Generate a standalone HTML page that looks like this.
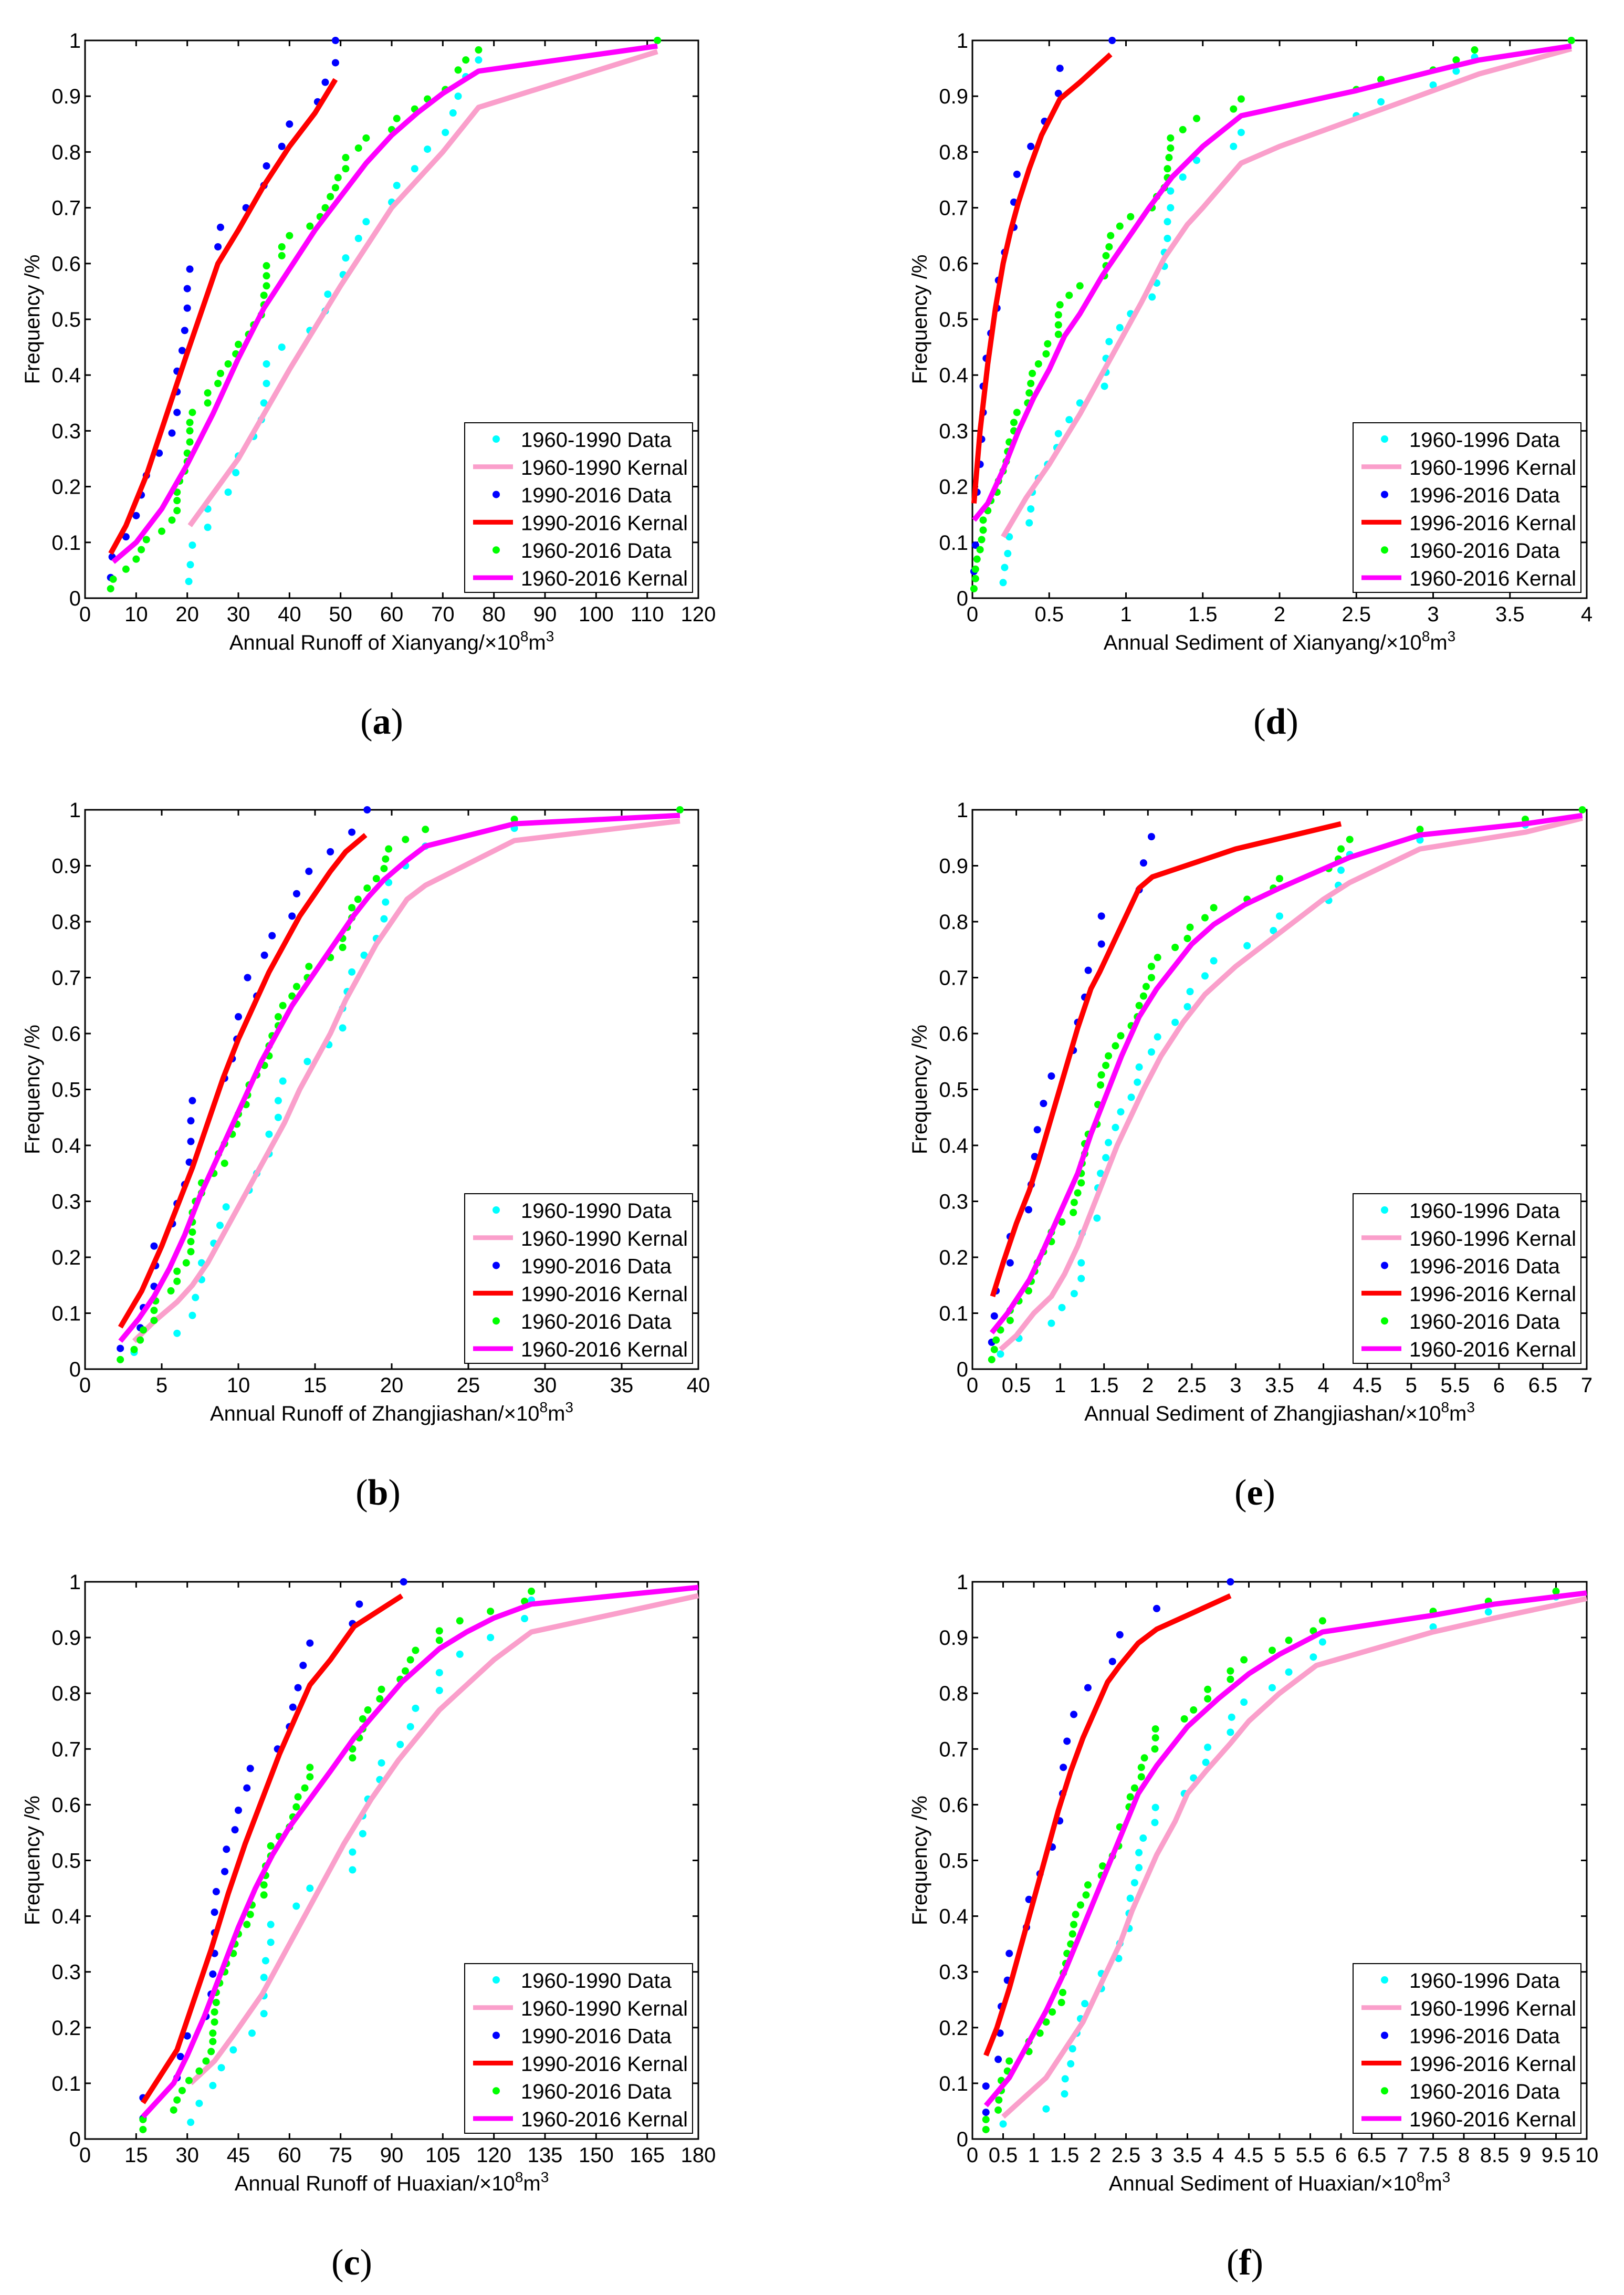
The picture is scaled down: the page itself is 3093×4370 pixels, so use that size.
<!DOCTYPE html>
<html><head><meta charset="utf-8"><style>
html,body{margin:0;padding:0;background:#fff}
svg{display:block}
text{font-family:"Liberation Sans",sans-serif;fill:#000}
</style></head><body>
<svg id="fig" width="3093" height="4370" viewBox="0 0 3093 4370" xmlns="http://www.w3.org/2000/svg"></svg>
<script>
// ---------- Panel (a): Annual Runoff of Xianyang ----------
const aCyan=[[20.3,0.03],[20.6,0.06],[21,0.095],[24,0.127],[24,0.16],[28,0.19],[29.5,0.225],[30,0.255],[33,0.29],[34.5,0.32],[35,0.35],[35.5,0.385],[35.5,0.42],[38.5,0.45],[44,0.48],[47,0.515],[47.5,0.545],[50.5,0.58],[51,0.61],[53.5,0.645],[55,0.675],[60,0.71],[61,0.74],[64.5,0.77],[67,0.805],[70.5,0.835],[72,0.87],[73,0.90],[74.5,0.935],[77,0.965],[112,1.0]];
const aPink=[[20.5,0.13],[30,0.25],[40,0.41],[50,0.56],[60,0.70],[70,0.80],[77,0.88],[112,0.98]];
const aBlue=[[5,0.037],[5.3,0.074],[8,0.11],[10,0.148],[11,0.185],[12,0.22],[14.5,0.26],[17,0.296],[18,0.333],[18,0.37],[18,0.407],[19,0.444],[19.5,0.48],[20,0.52],[20,0.555],[20.5,0.59],[26,0.63],[26.5,0.665],[31.5,0.70],[35,0.74],[35.5,0.775],[38.5,0.81],[40,0.85],[45.5,0.89],[47,0.925],[49,0.96],[49,1.0]];
const aRed=[[5,0.08],[8,0.13],[12,0.22],[16,0.33],[20,0.44],[23,0.52],[26,0.60],[30,0.66],[35,0.74],[40,0.81],[45,0.87],[49,0.93]];
const aGreen=[[5,0.017],[5.5,0.034],[8,0.052],[10,0.07],[11,0.087],[12,0.105],[15,0.12],[17,0.14],[18,0.157],[18,0.175],[18,0.19],[18.5,0.21],[19.5,0.228],[20,0.245],[20,0.26],[20.5,0.28],[20.5,0.3],[20.5,0.315],[21,0.333],[24,0.35],[24,0.368],[26,0.385],[26.5,0.403],[28,0.42],[29.5,0.438],[30,0.455],[32,0.473],[33,0.49],[34.5,0.508],[35,0.526],[35,0.543],[35.5,0.56],[35.5,0.578],[35.5,0.596],[38.5,0.614],[38.5,0.63],[40,0.65],[44,0.667],[46,0.684],[47,0.70],[48,0.72],[49,0.736],[49.5,0.754],[51,0.77],[51,0.79],[53.5,0.807],[55,0.825],[60,0.84],[61,0.86],[64.5,0.877],[67,0.895],[70.5,0.912],[73,0.947],[74.5,0.965],[77,0.983],[112,1.0]];
const aMag=[[5.5,0.065],[10,0.10],[15,0.16],[20,0.24],[25,0.33],[30,0.43],[35,0.52],[40,0.59],[45,0.66],[50,0.72],[55,0.78],[60,0.83],[65,0.87],[70,0.905],[77,0.945],[112,0.99]];
const aXTicks=[0,10,20,30,40,50,60,70,80,90,100,110,120];

// ---------- Panel (b): Annual Runoff of Zhangjiashan ----------
const bCyan=[[3.2,0.03],[6,0.064],[7,0.096],[7.2,0.128],[7.6,0.16],[7.6,0.19],[8.4,0.225],[8.8,0.257],[9.2,0.29],[10.7,0.32],[11.2,0.35],[12,0.385],[12,0.42],[12.6,0.45],[12.6,0.48],[12.9,0.515],[14.5,0.55],[15.9,0.58],[16.8,0.61],[16.8,0.645],[17.1,0.675],[17.4,0.71],[18.2,0.74],[19,0.77],[19.5,0.805],[19.6,0.835],[19.8,0.87],[20.9,0.9],[22.2,0.935],[28,0.967],[38.8,1.0]];
const bPink=[[3.2,0.05],[4.5,0.085],[6,0.12],[7,0.15],[8,0.19],[9,0.24],[10,0.29],[11,0.34],[12,0.39],[13,0.44],[14,0.5],[15,0.55],[16,0.6],[17,0.66],[18,0.71],[19,0.76],[20,0.80],[21,0.84],[22.2,0.865],[28,0.945],[38.8,0.98]];
const bBlue=[[2.3,0.037],[3.6,0.074],[3.8,0.11],[4.5,0.148],[4.6,0.185],[4.5,0.22],[5.7,0.26],[6,0.296],[6.5,0.33],[6.8,0.37],[6.9,0.407],[6.9,0.444],[7,0.48],[9.1,0.52],[9.6,0.555],[9.9,0.59],[10,0.63],[11.2,0.667],[10.6,0.70],[11.7,0.74],[12.2,0.775],[13.5,0.81],[13.8,0.85],[14.6,0.89],[16,0.925],[17.4,0.96],[18.4,1.0]];
const bRed=[[2.3,0.075],[3.7,0.14],[5,0.22],[6,0.29],[7,0.36],[8,0.44],[9,0.52],[10,0.59],[11,0.65],[12,0.71],[13,0.76],[14,0.81],[15,0.85],[16,0.89],[17,0.925],[18.3,0.955]];
const bGreen=[[2.3,0.017],[3.2,0.035],[3.6,0.052],[3.8,0.07],[4.5,0.087],[4.5,0.105],[4.6,0.122],[5.6,0.14],[6,0.157],[6,0.175],[6.6,0.19],[6.9,0.21],[6.9,0.228],[7,0.245],[7,0.263],[7,0.28],[7.2,0.3],[7.6,0.315],[7.6,0.333],[8.4,0.35],[9.1,0.368],[8.7,0.385],[9.1,0.403],[9.6,0.42],[9.9,0.438],[10,0.456],[10.5,0.473],[10.6,0.49],[10.7,0.508],[11.2,0.526],[11.7,0.543],[12,0.56],[12,0.578],[12.2,0.596],[12.6,0.614],[12.6,0.63],[12.9,0.65],[13.5,0.667],[13.8,0.684],[14.5,0.70],[14.6,0.72],[16,0.736],[16.8,0.754],[16.8,0.77],[17.1,0.79],[17.4,0.807],[17.4,0.825],[17.8,0.84],[18.4,0.86],[19,0.877],[19.5,0.895],[19.6,0.912],[19.8,0.93],[20.9,0.947],[22.2,0.965],[28,0.983],[38.8,1.0]];
const bMag=[[2.3,0.05],[3.5,0.09],[4.5,0.13],[5.5,0.18],[6.5,0.24],[7.5,0.31],[8.5,0.37],[9.5,0.43],[10.5,0.49],[11.5,0.55],[12.5,0.6],[13.5,0.65],[14.5,0.69],[15.5,0.73],[16.5,0.77],[17.5,0.81],[18.5,0.845],[19.5,0.875],[21,0.91],[22.2,0.935],[28,0.975],[38.8,0.99]];
const bXTicks=[0,5,10,15,20,25,30,35,40];

// ---------- Panel (c): Annual Runoff of Huaxian ----------
const cCyan=[[31,0.03],[33.5,0.064],[37.5,0.096],[40,0.128],[43.5,0.16],[49,0.19],[52.5,0.225],[52.5,0.257],[52.5,0.29],[53,0.32],[54.5,0.353],[54.5,0.385],[62,0.418],[66,0.45],[78.5,0.483],[78.5,0.515],[81.5,0.548],[81.5,0.58],[83,0.61],[86.5,0.645],[87,0.675],[92.5,0.708],[95.5,0.74],[97,0.773],[104,0.805],[104,0.837],[110,0.87],[119,0.9],[129,0.934],[131,0.967]];
const cPink=[[31,0.1],[38,0.14],[44,0.19],[52,0.26],[60,0.35],[68,0.44],[76,0.53],[84,0.61],[92,0.68],[104,0.77],[120,0.86],[131,0.91],[180,0.975]];
const cBlue=[[17,0.037],[17,0.074],[27,0.11],[28,0.148],[30,0.185],[35.5,0.22],[37,0.26],[37.5,0.296],[38,0.333],[38,0.37],[38,0.407],[38.5,0.444],[41,0.48],[41.5,0.52],[44,0.555],[45,0.59],[47.5,0.63],[48.5,0.665],[56.5,0.70],[60,0.74],[61,0.775],[62.5,0.81],[64,0.85],[66,0.89],[78.5,0.925],[80.5,0.96],[93.5,1.0]];
const cRed=[[17,0.065],[27,0.16],[32,0.25],[37,0.34],[42,0.44],[47,0.53],[52,0.61],[57,0.69],[62,0.76],[66,0.815],[72,0.86],[79,0.92],[93,0.975]];
const cGreen=[[17,0.017],[17,0.035],[26,0.052],[27,0.07],[28.5,0.087],[30.5,0.105],[33.5,0.122],[35.5,0.14],[37,0.157],[37.5,0.175],[37.5,0.19],[38,0.21],[38,0.228],[38.5,0.245],[38.5,0.263],[39.5,0.28],[41,0.3],[41.5,0.315],[43.5,0.333],[44,0.35],[45,0.368],[47.5,0.385],[48.5,0.403],[49,0.42],[52.5,0.438],[52.5,0.456],[53,0.473],[53,0.49],[54.5,0.508],[54.5,0.526],[57,0.543],[60,0.56],[61,0.578],[62,0.596],[62.5,0.614],[64.5,0.63],[66,0.65],[66,0.667],[78.5,0.684],[78.5,0.70],[80.5,0.72],[81.5,0.736],[81.5,0.754],[83,0.77],[86.5,0.79],[87,0.807],[92.5,0.825],[94,0.84],[95.5,0.86],[97,0.877],[104,0.895],[104,0.912],[110,0.93],[119,0.947],[129,0.965],[131,0.983]];
const cMag=[[17,0.04],[26,0.10],[30,0.15],[35,0.22],[40,0.30],[45,0.38],[50,0.45],[55,0.51],[60,0.56],[66,0.61],[72,0.66],[79,0.72],[86,0.77],[93,0.82],[104,0.88],[112,0.91],[120,0.935],[131,0.96],[180,0.99]];
const cXTicks=[0,15,30,45,60,75,90,105,120,135,150,165,180];

// ---------- Panel (d): Annual Sediment of Xianyang ----------
const dCyan=[[0.2,0.028],[0.21,0.055],[0.23,0.08],[0.24,0.11],[0.37,0.135],[0.38,0.16],[0.39,0.19],[0.43,0.215],[0.49,0.24],[0.55,0.27],[0.56,0.295],[0.63,0.32],[0.7,0.35],[0.86,0.38],[0.87,0.405],[0.87,0.43],[0.89,0.46],[0.96,0.485],[1.03,0.51],[1.17,0.54],[1.2,0.565],[1.25,0.595],[1.25,0.62],[1.27,0.645],[1.27,0.675],[1.29,0.70],[1.29,0.73],[1.37,0.755],[1.46,0.785],[1.7,0.81],[1.75,0.835],[2.5,0.865],[2.66,0.89],[3.0,0.92],[3.15,0.945],[3.27,0.97],[3.9,1.0]];
const dPink=[[0.2,0.11],[0.35,0.18],[0.5,0.24],[0.7,0.33],[0.9,0.43],[1.1,0.53],[1.25,0.61],[1.4,0.67],[1.5,0.70],[1.75,0.78],[2.0,0.81],[2.5,0.86],[3,0.91],[3.3,0.94],[3.9,0.985]];
const dBlue=[[0.01,0.048],[0.02,0.095],[0.03,0.19],[0.05,0.24],[0.06,0.285],[0.07,0.333],[0.07,0.38],[0.09,0.43],[0.12,0.475],[0.16,0.52],[0.17,0.57],[0.21,0.62],[0.27,0.665],[0.27,0.71],[0.29,0.76],[0.38,0.81],[0.47,0.855],[0.56,0.905],[0.57,0.95],[0.91,1.0]];
const dRed=[[0.01,0.17],[0.05,0.3],[0.1,0.42],[0.15,0.52],[0.2,0.6],[0.25,0.66],[0.3,0.71],[0.37,0.77],[0.45,0.83],[0.57,0.895],[0.7,0.925],[0.9,0.975]];
const dGreen=[[0.01,0.017],[0.02,0.035],[0.02,0.052],[0.03,0.07],[0.05,0.087],[0.06,0.105],[0.07,0.122],[0.07,0.14],[0.1,0.157],[0.12,0.175],[0.16,0.19],[0.17,0.21],[0.2,0.228],[0.22,0.245],[0.23,0.263],[0.24,0.28],[0.27,0.3],[0.27,0.315],[0.29,0.333],[0.36,0.35],[0.37,0.368],[0.38,0.385],[0.39,0.403],[0.43,0.42],[0.48,0.438],[0.49,0.456],[0.56,0.473],[0.56,0.49],[0.56,0.508],[0.57,0.526],[0.63,0.543],[0.7,0.56],[0.86,0.578],[0.87,0.596],[0.87,0.614],[0.89,0.63],[0.9,0.65],[0.96,0.667],[1.03,0.684],[1.17,0.70],[1.2,0.72],[1.25,0.736],[1.27,0.754],[1.27,0.77],[1.28,0.79],[1.29,0.807],[1.29,0.825],[1.37,0.84],[1.46,0.86],[1.7,0.877],[1.75,0.895],[2.5,0.912],[2.66,0.93],[3.0,0.947],[3.15,0.965],[3.27,0.983],[3.9,1.0]];
const dMag=[[0.01,0.14],[0.1,0.17],[0.2,0.23],[0.3,0.30],[0.4,0.36],[0.5,0.41],[0.6,0.47],[0.7,0.51],[0.85,0.58],[1,0.64],[1.15,0.70],[1.3,0.755],[1.5,0.81],[1.75,0.865],[2.5,0.91],[3,0.945],[3.3,0.965],[3.9,0.99]];
const dXTicks=[0,0.5,1,1.5,2,2.5,3,3.5,4];

// ---------- Panel (e): Annual Sediment of Zhangjiashan ----------
const eCyan=[[0.32,0.027],[0.53,0.055],[0.9,0.082],[1.02,0.11],[1.16,0.135],[1.24,0.162],[1.24,0.19],[1.25,0.243],[1.42,0.27],[1.43,0.324],[1.46,0.35],[1.52,0.378],[1.55,0.405],[1.63,0.432],[1.69,0.46],[1.81,0.486],[1.88,0.513],[1.9,0.54],[2.04,0.567],[2.11,0.594],[2.31,0.62],[2.45,0.648],[2.48,0.675],[2.65,0.703],[2.75,0.73],[3.13,0.757],[3.43,0.784],[3.5,0.81],[4.06,0.838],[4.17,0.865],[4.2,0.892],[4.3,0.92],[5.1,0.946],[6.3,0.973]];
const ePink=[[0.32,0.035],[0.5,0.06],[0.7,0.1],[0.9,0.13],[1.05,0.17],[1.2,0.22],[1.35,0.28],[1.5,0.34],[1.65,0.4],[1.8,0.45],[1.95,0.5],[2.15,0.56],[2.4,0.62],[2.65,0.67],[3,0.72],[3.5,0.78],[4,0.84],[4.3,0.87],[5.1,0.93],[6.3,0.96],[6.95,0.985]];
const eBlue=[[0.22,0.048],[0.25,0.095],[0.27,0.14],[0.43,0.19],[0.43,0.237],[0.64,0.285],[0.67,0.33],[0.71,0.38],[0.74,0.428],[0.81,0.475],[0.9,0.524],[1.15,0.57],[1.2,0.62],[1.28,0.665],[1.32,0.713],[1.47,0.76],[1.47,0.81],[1.9,0.857],[1.95,0.905],[2.04,0.952]];
const eRed=[[0.23,0.13],[0.35,0.19],[0.5,0.26],[0.65,0.32],[0.75,0.37],[0.9,0.45],[1.05,0.53],[1.2,0.61],[1.35,0.68],[1.45,0.71],[1.6,0.76],[1.75,0.81],[1.9,0.86],[2.05,0.88],[3,0.93],[4.2,0.975]];
const eGreen=[[0.22,0.017],[0.25,0.035],[0.27,0.052],[0.32,0.07],[0.43,0.087],[0.43,0.105],[0.53,0.122],[0.64,0.14],[0.67,0.157],[0.71,0.175],[0.74,0.19],[0.81,0.21],[0.9,0.228],[0.9,0.245],[1.02,0.263],[1.15,0.28],[1.16,0.298],[1.2,0.315],[1.24,0.333],[1.24,0.35],[1.25,0.368],[1.28,0.385],[1.28,0.403],[1.32,0.42],[1.42,0.438],[1.43,0.473],[1.46,0.508],[1.47,0.526],[1.52,0.543],[1.55,0.56],[1.63,0.578],[1.69,0.596],[1.81,0.614],[1.88,0.63],[1.9,0.65],[1.95,0.667],[1.98,0.684],[2.04,0.70],[2.04,0.72],[2.11,0.736],[2.31,0.754],[2.45,0.77],[2.48,0.79],[2.65,0.807],[2.75,0.825],[3.13,0.84],[3.43,0.86],[3.5,0.877],[4.06,0.895],[4.17,0.912],[4.2,0.93],[4.3,0.947],[5.1,0.965],[6.3,0.983],[6.95,1.0]];
const eMag=[[0.22,0.065],[0.4,0.1],[0.65,0.16],[0.8,0.21],[1,0.28],[1.2,0.35],[1.35,0.42],[1.5,0.48],[1.7,0.56],[1.9,0.63],[2.1,0.68],[2.3,0.72],[2.5,0.76],[2.75,0.795],[3.1,0.83],[3.5,0.86],[4.3,0.915],[5.1,0.955],[6.3,0.975],[6.95,0.99]];
const eXTicks=[0,0.5,1,1.5,2,2.5,3,3.5,4,4.5,5,5.5,6,6.5,7];

// ---------- Panel (f): Annual Sediment of Huaxian ----------
const fCyan=[[0.5,0.027],[1.2,0.054],[1.5,0.081],[1.51,0.108],[1.6,0.135],[1.63,0.162],[1.7,0.19],[1.76,0.216],[1.83,0.243],[2.1,0.27],[2.1,0.297],[2.38,0.324],[2.4,0.351],[2.55,0.378],[2.55,0.405],[2.57,0.432],[2.64,0.46],[2.71,0.487],[2.71,0.514],[2.78,0.54],[2.97,0.568],[2.98,0.595],[3.45,0.62],[3.6,0.648],[3.8,0.676],[3.83,0.703],[4.2,0.73],[4.22,0.757],[4.42,0.784],[4.88,0.81],[5.15,0.838],[5.55,0.865],[5.7,0.892],[7.5,0.919],[8.4,0.946],[9.5,0.973]];
const fPink=[[0.5,0.04],[0.8,0.07],[1.2,0.11],[1.5,0.16],[1.8,0.21],[2.1,0.28],[2.4,0.35],[2.6,0.41],[2.8,0.46],[3.0,0.51],[3.3,0.57],[3.5,0.62],[3.8,0.66],[4.2,0.71],[4.5,0.75],[5,0.80],[5.6,0.85],[7.5,0.91],[8.5,0.935],[10,0.97]];
const fBlue=[[0.22,0.048],[0.22,0.095],[0.42,0.143],[0.45,0.19],[0.47,0.238],[0.57,0.285],[0.6,0.333],[0.88,0.38],[0.92,0.43],[1.1,0.476],[1.3,0.524],[1.42,0.571],[1.47,0.62],[1.48,0.667],[1.54,0.714],[1.65,0.762],[1.88,0.81],[2.28,0.857],[2.4,0.905],[3.0,0.952],[4.2,1.0]];
const fRed=[[0.22,0.15],[0.4,0.2],[0.6,0.27],[0.8,0.35],[1.0,0.43],[1.2,0.51],[1.4,0.59],[1.6,0.66],[1.8,0.72],[2.0,0.77],[2.2,0.82],[2.4,0.85],[2.7,0.89],[3,0.915],[3.5,0.94],[4.2,0.975]];
const fGreen=[[0.22,0.017],[0.22,0.035],[0.42,0.052],[0.43,0.07],[0.47,0.087],[0.47,0.105],[0.57,0.122],[0.6,0.14],[0.92,0.157],[0.92,0.175],[1.1,0.19],[1.2,0.21],[1.3,0.228],[1.45,0.245],[1.47,0.263],[1.48,0.298],[1.52,0.315],[1.54,0.333],[1.6,0.35],[1.63,0.368],[1.65,0.385],[1.68,0.403],[1.76,0.42],[1.85,0.438],[1.88,0.456],[2.1,0.473],[2.12,0.49],[2.28,0.508],[2.38,0.526],[2.4,0.56],[2.55,0.596],[2.57,0.614],[2.64,0.63],[2.75,0.65],[2.75,0.667],[2.8,0.684],[2.97,0.70],[2.98,0.72],[2.98,0.736],[3.45,0.754],[3.6,0.77],[3.83,0.79],[3.83,0.807],[4.2,0.825],[4.2,0.84],[4.42,0.86],[4.88,0.877],[5.15,0.895],[5.55,0.912],[5.7,0.93],[7.5,0.947],[8.4,0.965],[9.5,0.983]];
const fMag=[[0.22,0.06],[0.6,0.11],[0.9,0.17],[1.2,0.23],[1.5,0.3],[1.8,0.38],[2.1,0.46],[2.4,0.54],[2.7,0.62],[3,0.67],[3.5,0.74],[4,0.79],[4.5,0.835],[5,0.87],[5.7,0.91],[7.5,0.94],[8.5,0.96],[10,0.98]];
const fXTicks=[0,0.5,1,1.5,2,2.5,3,3.5,4,4.5,5,5.5,6,6.5,7,7.5,8,8.5,9,9.5,10];

const yTicks=[0,0.1,0.2,0.3,0.4,0.5,0.6,0.7,0.8,0.9,1];
const legendA=["1960-1990 Data","1960-1990 Kernal","1990-2016 Data","1990-2016 Kernal","1960-2016 Data","1960-2016 Kernal"];
const legendD=["1960-1996 Data","1960-1996 Kernal","1996-2016 Data","1996-2016 Kernal","1960-2016 Data","1960-2016 Kernal"];

const NS="http://www.w3.org/2000/svg";
const svg=document.getElementById('fig');
function mk(tag,attrs,parent){const e=document.createElementNS(NS,tag);for(const k in attrs)e.setAttribute(k,attrs[k]);(parent||svg).appendChild(e);return e;}

const COL={cyan:"#00FFFF",pink:"#FA9FCB",blue:"#0000FF",red:"#FF0000",green:"#00FF00",mag:"#FF00FF"};

function panel(id,L,R,T,B,xmax,xticks,series,legend,place,label,labelX){
  const g=mk('g',{});
  
  
  const sx=v=>L+(R-L)*v/xmax;
  const sy=v=>B-(B-T)*v;
  const box=mk('rect',{x:L,y:T,width:R-L,height:B-T,fill:'none',stroke:'#000','stroke-width':3},g);
  
  
  xticks.forEach(t=>{
    const x=sx(t);
    mk('line',{x1:x,y1:B,x2:x,y2:B-11,stroke:'#000','stroke-width':3},g);
    mk('line',{x1:x,y1:T,x2:x,y2:T+11,stroke:'#000','stroke-width':3},g);
    const tx=mk('text',{x:x,y:B+44,'font-size':40,'text-anchor':'middle'},g);
    tx.textContent=String(t);
    
    
  });
  yTicks.forEach(t=>{
    const y=sy(t);
    mk('line',{x1:L,y1:y,x2:L+11,y2:y,stroke:'#000','stroke-width':3},g);
    mk('line',{x1:R,y1:y,x2:R-11,y2:y,stroke:'#000','stroke-width':3},g);
    const ty=mk('text',{x:L-8,y:y+14,'font-size':40,'text-anchor':'end'},g);
    ty.textContent=String(t);
    
    
  });
  const order=[['cyan','dots'],['pink','line'],['blue','dots'],['red','line'],['green','dots'],['mag','line']];
  order.forEach((o,i)=>{
    const data=series[i];
    if(o[1]==='line'){
      const p=mk('polyline',{points:data.map(d=>sx(d[0])+','+sy(d[1])).join(' '),fill:'none',stroke:COL[o[0]],'stroke-width':10,'stroke-linejoin':'round'},g);
      
      
    } else {
      data.forEach(d=>{
        const c=mk('circle',{cx:sx(d[0]),cy:sy(d[1]),r:7,fill:COL[o[0]]},g);
        
        
      });
    }
  });
  const lx=R-445, ly=B-334;
  const lg=mk('g',{},g);
  
  
  mk('rect',{x:lx,y:ly,width:434,height:323,fill:'#fff',stroke:'#000','stroke-width':2},lg);
  order.forEach((o,i)=>{
    const cy=ly+31+i*52.8;
    const e=mk('g',{},lg);
    
    
    if(o[1]==='line') mk('line',{x1:lx+16,y1:cy,x2:lx+92,y2:cy,stroke:COL[o[0]],'stroke-width':9},e);
    else mk('circle',{cx:lx+60,cy:cy,r:7,fill:COL[o[0]]},e);
    const t=mk('text',{x:lx+107,y:cy+15,'font-size':40},e);
    t.textContent=legend[i];
  });
  const xt=mk('text',{x:(L+R)/2,y:B+98,'font-size':40,'text-anchor':'middle'},g);
  
  
  xt.appendChild(document.createTextNode(place+'/×10'));
  const s1=mk('tspan',{'font-size':28,dy:-16},xt); s1.textContent='8';
  const s2=mk('tspan',{'font-size':40,dy:16},xt); s2.textContent='m';
  const s3=mk('tspan',{'font-size':28,dy:-16},xt); s3.textContent='3';
  const yt=mk('text',{x:0,y:0,'font-size':40,'text-anchor':'middle',transform:'translate('+(L-87)+','+((T+B)/2)+') rotate(-90)'},g);
  yt.textContent='Frequency /%';
  
  
  const pl=mk('text',{x:labelX,y:B+258,'font-size':70,'text-anchor':'middle',style:'font-family:"Liberation Serif",serif'},g);
  
  
  pl.appendChild(document.createTextNode('('));
  const b=mk('tspan',{'font-weight':'bold'},pl); b.textContent=label;
  pl.appendChild(document.createTextNode(')'));
}

const LL=162, LR=1330, RL=1852, RR=3022;
panel('a',LL,LR,77,1139,120,aXTicks,[aCyan,aPink,aBlue,aRed,aGreen,aMag],legendA,'Annual Runoff of Xianyang','a',727);
panel('b',LL,LR,1542,2607,40,bXTicks,[bCyan,bPink,bBlue,bRed,bGreen,bMag],legendA,'Annual Runoff of Zhangjiashan','b',720);
panel('c',LL,LR,3012,4073,180,cXTicks,[cCyan,cPink,cBlue,cRed,cGreen,cMag],legendA,'Annual Runoff of Huaxian','c',670);
panel('d',RL,RR,77,1139,4,dXTicks,[dCyan,dPink,dBlue,dRed,dGreen,dMag],legendD,'Annual Sediment of Xianyang','d',2430);
panel('e',RL,RR,1542,2607,7,eXTicks,[eCyan,ePink,eBlue,eRed,eGreen,eMag],legendD,'Annual Sediment of Zhangjiashan','e',2390);
panel('f',RL,RR,3012,4073,10,fXTicks,[fCyan,fPink,fBlue,fRed,fGreen,fMag],legendD,'Annual Sediment of Huaxian','f',2371);
</script>
</body></html>
